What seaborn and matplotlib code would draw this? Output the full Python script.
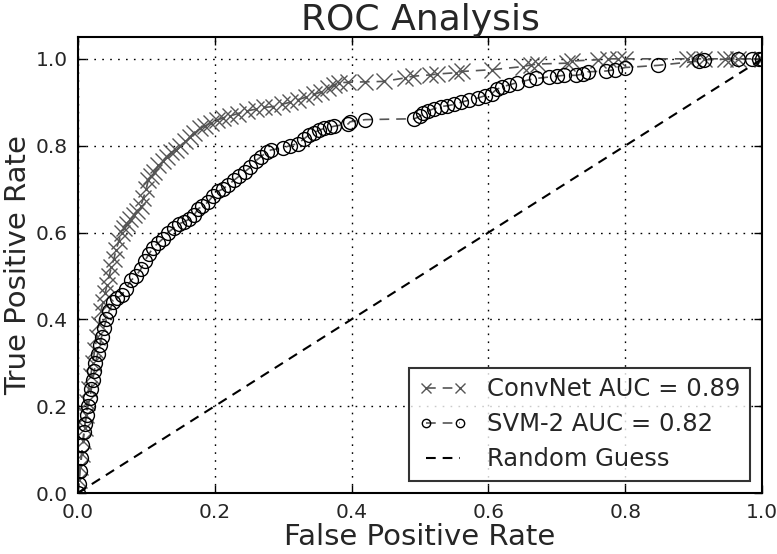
import numpy as np
import matplotlib
matplotlib.use("Agg")
import matplotlib.pyplot as plt
import seaborn as sns

# -----------------------------
# ROC points
# -----------------------------
convnet_fpr = [0.0, 0.002, 0.004, 0.006, 0.008, 0.010, 0.012, 0.014, 0.016, 0.019,
               0.022, 0.025, 0.028, 0.031, 0.034, 0.037, 0.040, 0.043, 0.046, 0.049,
               0.053, 0.056, 0.060, 0.064, 0.068, 0.072, 0.077, 0.082, 0.087, 0.092,
               0.096, 0.100, 0.103, 0.107, 0.112, 0.118, 0.124, 0.130, 0.137, 0.144,
               0.150, 0.157, 0.164, 0.170, 0.178, 0.186, 0.194, 0.203, 0.212, 0.222,
               0.234, 0.247, 0.260, 0.272, 0.285, 0.298, 0.310, 0.322, 0.334, 0.345,
               0.356, 0.366, 0.375, 0.382, 0.395, 0.420, 0.447, 0.478, 0.490, 0.515,
               0.525, 0.553, 0.562, 0.605, 0.650, 0.662, 0.672, 0.715, 0.722, 0.760,
               0.775, 0.790, 0.800, 0.890, 0.900, 0.915, 0.945, 0.955, 0.965, 1.0]
convnet_tpr = [0.0, 0.03, 0.06, 0.09, 0.12, 0.15, 0.18, 0.21, 0.24, 0.27,
               0.30, 0.33, 0.36, 0.39, 0.42, 0.44, 0.46, 0.48, 0.50, 0.52,
               0.54, 0.56, 0.58, 0.60, 0.61, 0.62, 0.63, 0.64, 0.65, 0.66,
               0.68, 0.70, 0.72, 0.73, 0.74, 0.755, 0.765, 0.775, 0.785, 0.79,
               0.80, 0.81, 0.82, 0.83, 0.84, 0.845, 0.852, 0.858, 0.864, 0.868,
               0.874, 0.880, 0.884, 0.888, 0.890, 0.895, 0.900, 0.906, 0.912, 0.918,
               0.924, 0.932, 0.940, 0.945, 0.946, 0.947, 0.948, 0.956, 0.960, 0.963,
               0.965, 0.968, 0.971, 0.975, 0.982, 0.986, 0.988, 0.990, 0.995, 0.998,
               1.0, 1.0, 1.0, 1.0, 1.0, 1.0, 1.0, 1.0, 1.0, 1.0]

svm_fpr = [0.0, 0.002, 0.003, 0.005, 0.007, 0.009, 0.011, 0.013, 0.015, 0.018,
           0.020, 0.022, 0.024, 0.026, 0.029, 0.032, 0.035, 0.038, 0.042, 0.046,
           0.052, 0.058, 0.064, 0.070, 0.078, 0.085, 0.092, 0.098, 0.104, 0.110,
           0.117, 0.124, 0.132, 0.140, 0.148, 0.156, 0.162, 0.170, 0.176, 0.182,
           0.190, 0.198, 0.205, 0.212, 0.220, 0.228, 0.236, 0.244, 0.252, 0.260,
           0.268, 0.276, 0.282, 0.300, 0.310, 0.322, 0.330, 0.338, 0.345, 0.352,
           0.360, 0.368, 0.375, 0.395, 0.398, 0.420, 0.492, 0.500, 0.505, 0.512,
           0.520, 0.530, 0.540, 0.550, 0.560, 0.572, 0.585, 0.595, 0.605, 0.612,
           0.620, 0.630, 0.642, 0.660, 0.670, 0.688, 0.700, 0.710, 0.728, 0.738,
           0.745, 0.772, 0.785, 0.800, 0.848, 0.908, 0.915, 0.965, 0.985, 0.995, 1.0]
svm_tpr = [0.0, 0.02, 0.05, 0.08, 0.11, 0.14, 0.16, 0.18, 0.20, 0.22,
           0.24, 0.26, 0.28, 0.30, 0.32, 0.34, 0.36, 0.38, 0.40, 0.42,
           0.44, 0.45, 0.455, 0.47, 0.49, 0.50, 0.515, 0.535, 0.55, 0.565,
           0.575, 0.585, 0.60, 0.61, 0.62, 0.625, 0.63, 0.64, 0.655, 0.66,
           0.67, 0.685, 0.695, 0.70, 0.71, 0.72, 0.73, 0.74, 0.75, 0.765,
           0.775, 0.785, 0.79, 0.795, 0.80, 0.805, 0.815, 0.825, 0.83, 0.835,
           0.84, 0.842, 0.845, 0.85, 0.855, 0.86, 0.862, 0.868, 0.875, 0.88,
           0.885, 0.89, 0.892, 0.895, 0.90, 0.905, 0.91, 0.915, 0.92, 0.93,
           0.935, 0.94, 0.945, 0.952, 0.955, 0.958, 0.96, 0.962, 0.962, 0.965,
           0.970, 0.972, 0.975, 0.98, 0.985, 0.995, 0.998, 1.0, 1.0, 1.0, 1.0]

guess_x = [0.0, 1.0]
guess_y = [0.0, 1.0]

labels = ["ConvNet AUC = 0.89", "SVM-2 AUC = 0.82", "Random Guess"]

# -----------------------------
# Style (old matplotlib look)
# -----------------------------
sns.set_theme(style="ticks")
plt.rcParams["font.family"] = ["DejaVu Sans"]
plt.rcParams["lines.scale_dashes"] = False

fig = plt.figure(figsize=(7.77, 5.54), dpi=100)
ax = fig.add_axes([0.100, 0.110, 0.881, 0.823])

dash = (7, 5)
gray = "#555555"
sns.lineplot(x=convnet_fpr, y=convnet_tpr, estimator=None, sort=False, ax=ax,
             color=gray, linewidth=1.2, dashes=dash, marker="x",
             markersize=11, markeredgecolor=gray, markeredgewidth=1.0,
             label=labels[0])
sns.lineplot(x=svm_fpr, y=svm_tpr, estimator=None, sort=False, ax=ax,
             color=gray, linewidth=1.2, dashes=dash, marker="o",
             markersize=10, markerfacecolor="none", markeredgecolor="black",
             markeredgewidth=1.0, label=labels[1])
sns.lineplot(x=guess_x, y=guess_y, estimator=None, sort=False, ax=ax,
             color="black", linewidth=1.5, dashes=dash, label=labels[2])

ax.set_xlim(0, 1)
ax.set_ylim(0, 1.05)
ax.set_xticks(np.arange(0, 1.01, 0.2))
ax.set_yticks(np.arange(0, 1.01, 0.2))
ax.grid(True, color="black", linewidth=1.0, dashes=(1.2, 4.5))
ax.tick_params(direction="in", top=True, right=True, length=6, width=1,
               labelsize=14.5, pad=7, color="black")
for s in ax.spines.values():
    s.set_linewidth(1.5)
    s.set_color("black")

ax.set_title("ROC Analysis", fontsize=26, pad=5)
ax.set_xlabel("False Positive Rate", fontsize=21, labelpad=1)
ax.set_ylabel("True Positive Rate", fontsize=21, labelpad=3)

leg = ax.legend(loc="lower right", fontsize=17.5, markerscale=0.6, numpoints=2,
                fancybox=False, frameon=True, handlelength=2.0,
                borderaxespad=0.5, labelspacing=0.45)
leg.get_frame().set_edgecolor("black")
leg.get_frame().set_linewidth(1.5)

fig.savefig("out.png", dpi=100)
